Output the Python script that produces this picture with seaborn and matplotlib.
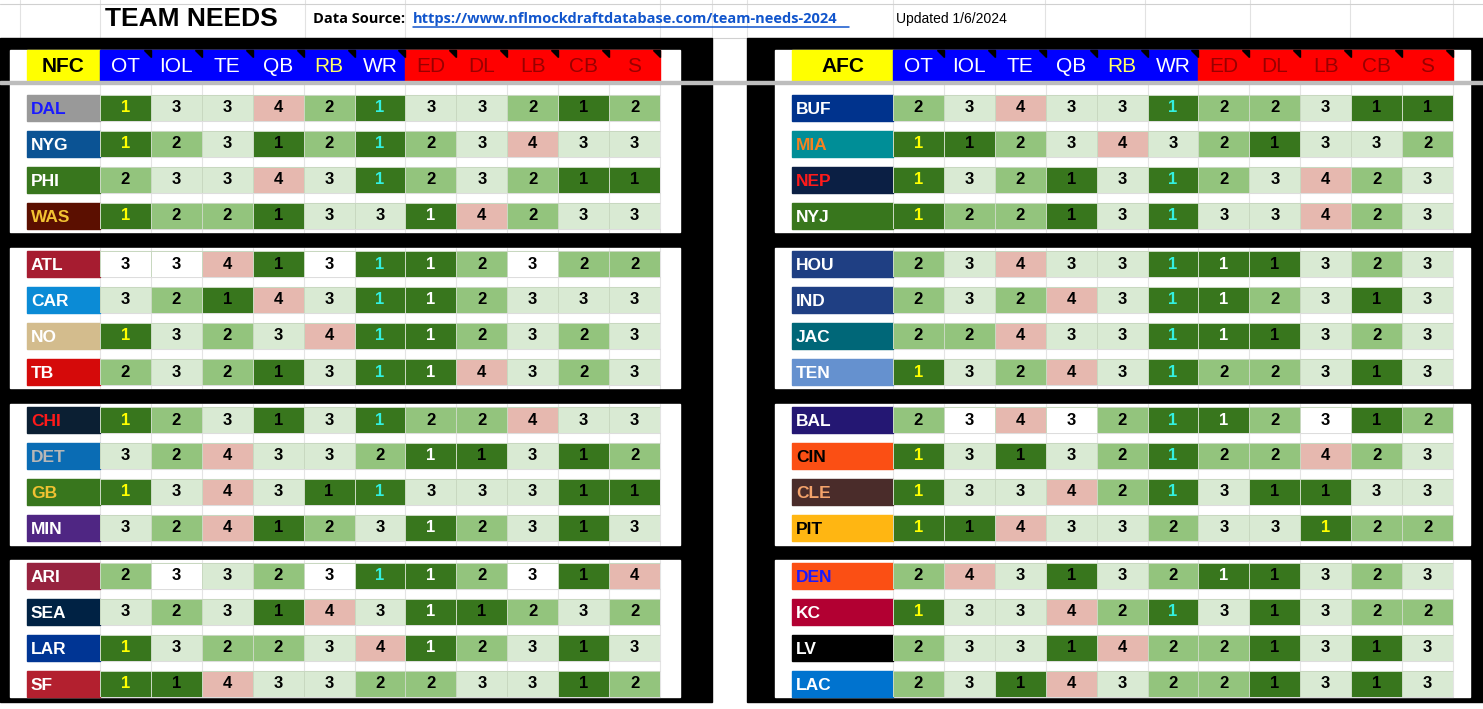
import numpy as np
import matplotlib
matplotlib.use("Agg")
import matplotlib.pyplot as plt
from matplotlib.colors import ListedColormap
from matplotlib.patches import Rectangle, Polygon
import seaborn as sns

positions = ["OT", "IOL", "TE", "QB", "RB", "WR", "ED", "DL", "LB", "CB", "S"]

nfc_teams = ["DAL", "NYG", "PHI", "WAS", "ATL", "CAR", "NO", "TB",
             "CHI", "DET", "GB", "MIN", "ARI", "SEA", "LAR", "SF"]
nfc_needs = [
    [1, 3, 3, 4, 2, 1, 3, 3, 2, 1, 2],
    [1, 2, 3, 1, 2, 1, 2, 3, 4, 3, 3],
    [2, 3, 3, 4, 3, 1, 2, 3, 2, 1, 1],
    [1, 2, 2, 1, 3, 3, 1, 4, 2, 3, 3],
    [3, 3, 4, 1, 3, 1, 1, 2, 3, 2, 2],
    [3, 2, 1, 4, 3, 1, 1, 2, 3, 3, 3],
    [1, 3, 2, 3, 4, 1, 1, 2, 3, 2, 3],
    [2, 3, 2, 1, 3, 1, 1, 4, 3, 2, 3],
    [1, 2, 3, 1, 3, 1, 2, 2, 4, 3, 3],
    [3, 2, 4, 3, 3, 2, 1, 1, 3, 1, 2],
    [1, 3, 4, 3, 1, 1, 3, 3, 3, 1, 1],
    [3, 2, 4, 1, 2, 3, 1, 2, 3, 1, 3],
    [2, 3, 3, 2, 3, 1, 1, 2, 3, 1, 4],
    [3, 2, 3, 1, 4, 3, 1, 1, 2, 3, 2],
    [1, 3, 2, 2, 3, 4, 1, 2, 3, 1, 3],
    [1, 1, 4, 3, 3, 2, 2, 3, 3, 1, 2],
]
afc_teams = ["BUF", "MIA", "NEP", "NYJ", "HOU", "IND", "JAC", "TEN",
             "BAL", "CIN", "CLE", "PIT", "DEN", "KC", "LV", "LAC"]
afc_needs = [
    [2, 3, 4, 3, 3, 1, 2, 2, 3, 1, 1],
    [1, 1, 2, 3, 4, 3, 2, 1, 3, 3, 2],
    [1, 3, 2, 1, 3, 1, 2, 3, 4, 2, 3],
    [1, 2, 2, 1, 3, 1, 3, 3, 4, 2, 3],
    [2, 3, 4, 3, 3, 1, 1, 1, 3, 2, 3],
    [2, 3, 2, 4, 3, 1, 1, 2, 3, 1, 3],
    [2, 2, 4, 3, 3, 1, 1, 1, 3, 2, 3],
    [1, 3, 2, 4, 3, 1, 2, 2, 3, 1, 3],
    [2, 3, 4, 3, 2, 1, 1, 2, 3, 1, 2],
    [1, 3, 1, 3, 2, 1, 2, 2, 4, 2, 3],
    [1, 3, 3, 4, 2, 1, 3, 1, 1, 3, 3],
    [1, 1, 4, 3, 3, 2, 3, 3, 1, 2, 2],
    [2, 4, 3, 1, 3, 2, 1, 1, 3, 2, 3],
    [1, 3, 3, 4, 2, 1, 3, 1, 3, 2, 2],
    [2, 3, 3, 1, 4, 2, 2, 1, 3, 1, 3],
    [2, 3, 1, 4, 3, 2, 2, 1, 3, 1, 3],
]
# cells shown with no fill (white) in the sheet
white_cells = {("ATL", "OT"), ("ATL", "IOL"), ("ATL", "RB"), ("ATL", "LB"),
               ("BAL", "IOL"), ("BAL", "QB"), ("BAL", "LB"),
               ("ARI", "IOL"), ("ARI", "RB"), ("ARI", "LB")}

team_style = {
    "DAL": ("#999999", "#1a1aff"), "NYG": ("#0b5394", "white"), "PHI": ("#38761d", "white"),
    "WAS": ("#5b0f00", "#f1c232"), "ATL": ("#a61c30", "white"), "CAR": ("#0b8bd6", "white"),
    "NO": ("#d3bc8d", "white"), "TB": ("#d50a0a", "white"), "CHI": ("#0b1f33", "#ff1a1a"),
    "DET": ("#0a6cb4", "#b7b7b7"), "GB": ("#38761d", "#f1c232"), "MIN": ("#4f2683", "white"),
    "ARI": ("#97233f", "white"), "SEA": ("#002244", "white"), "LAR": ("#003594", "white"),
    "SF": ("#b3202f", "white"),
    "BUF": ("#00338d", "white"), "MIA": ("#008e97", "#f58220"), "NEP": ("#0b1f44", "#ff1a1a"),
    "NYJ": ("#38761d", "white"), "HOU": ("#1f3f83", "white"), "IND": ("#1f3f83", "white"),
    "JAC": ("#006778", "white"), "TEN": ("#6591cf", "white"), "BAL": ("#241773", "white"),
    "CIN": ("#fb4f14", "black"), "CLE": ("#4a2c2a", "#f4a36b"), "PIT": ("#ffb612", "black"),
    "DEN": ("#fb4f14", "#1a1aff"), "KC": ("#b20032", "white"), "LV": ("#000000", "white"),
    "LAC": ("#0073cf", "white"),
}

W, H = 1483, 709
FONT = ["Liberation Sans Narrow", "Liberation Sans", "DejaVu Sans"]
sns.set_theme(style="white")
plt.rcParams["font.family"] = FONT

cell_cmap = ListedColormap(["#ffffff", "#38761d", "#93c47d", "#d9ead3", "#e6b8af"])
one_colors = {"OT": "#ffff00", "WR": "#33f0e0", "ED": "white"}

fig = plt.figure(figsize=(W / 100, H / 100), dpi=100)
bg = fig.add_axes([0, 0, 1, 1])
bg.set_xlim(0, W)
bg.set_ylim(H, 0)
bg.set_axis_off()

# spreadsheet gridlines
for x in [20, 100, 305, 405, 660, 712, 747, 893, 1045, 1145, 1250, 1350, 1453]:
    bg.plot([x, x], [0, 38], color="#e2e2e2", lw=0.8, zorder=0)
for y in [4, 38]:
    bg.plot([0, W], [y, y], color="#d0d0d0", lw=0.8, zorder=0)


def row_center(i):
    return 108 + 36 * i + 12 * (i // 4)


def draw_panel(x_black, x_black_end, x_white, x_white_end, x_team, x_cols, x_end, conf, teams, needs):
    bg.add_patch(Rectangle((x_black, 38), x_black_end - x_black, 664, color="black", zorder=1))
    spans = [(50, 232), (248, 388), (404, 545), (560, 697)]
    for y0, y1 in spans:
        bg.add_patch(Rectangle((x_white, y0), x_white_end - x_white, y1 - y0, color="white", zorder=2))
        for x in np.linspace(x_cols, x_end, 12):
            bg.plot([x, x], [max(y0, 84), y1], color="#e4e4e4", lw=0.8, zorder=2.5)
    cw = (x_end - x_cols) / len(positions)
    # header
    bg.add_patch(Rectangle((x_team, 50), x_cols - x_team, 32, color="#ffff00", zorder=3))
    bg.text((x_team + x_cols) / 2, 66, conf, ha="center", va="center", fontsize=15,
            fontweight="bold", color="black", zorder=4)
    for j, p in enumerate(positions):
        offense = j < 6
        x0 = x_cols + j * cw
        bg.add_patch(Rectangle((x0, 50), cw, 32, color="#0000ff" if offense else "#ff0000", zorder=3))
        tc = ("#ffff66" if p == "RB" else "white") if offense else "#990000"
        bg.text(x0 + cw / 2, 67, p, ha="center", va="center", fontsize=15, color=tc, zorder=4)
        bg.add_patch(Polygon([[x0 + cw - 7, 50], [x0 + cw, 50], [x0 + cw, 57]], color="black", zorder=4))
    # rows
    for i, team in enumerate(teams):
        yc = row_center(i)
        fill, tcol = team_style[team]
        bg.plot([x_team, x_end], [yc - 13, yc - 13], color="#dddddd", lw=0.8, zorder=2.6)
        bg.plot([x_team, x_end], [yc + 13, yc + 13], color="#dddddd", lw=0.8, zorder=2.6)
        bg.add_patch(Rectangle((x_team, yc - 13), x_cols - x_team, 26, color=fill, zorder=3))
        bg.text(x_team + 4, yc + 1, team, ha="left", va="center", fontsize=12.5,
                fontweight="bold", color=tcol, zorder=4)
        vals = np.array([needs[i]])
        idx = np.array([[0 if (team, p) in white_cells else v for p, v in zip(positions, needs[i])]])
        ax = fig.add_axes([x_cols / W, 1 - (yc + 13) / H, (x_end - x_cols) / W, 26 / H])
        sns.heatmap(idx, ax=ax, cmap=cell_cmap, vmin=-0.5, vmax=4.5, cbar=False,
                    annot=vals.astype(str), fmt="", linewidths=0.6, linecolor="#c8d8c0",
                    xticklabels=False, yticklabels=False,
                    annot_kws={"fontsize": 12, "fontweight": "bold", "color": "black"})
        for t, p, v in zip(ax.texts, positions, needs[i]):
            if v == 1 and p in one_colors:
                t.set_color(one_colors[p])
            if team == "PIT" and p == "LB":
                t.set_color("#ffff00")
        ax.set_axis_off()


draw_panel(0, 712, 10, 680, 27, 100, 660, "NFC", nfc_teams, nfc_needs)
draw_panel(747, 1483, 775, 1470, 792, 893, 1453, "AFC", afc_teams, afc_needs)

# grey frozen-row divider
bg.add_patch(Rectangle((0, 81), W, 3, color="#bdbdbd", zorder=5))

# title row
bg.text(105, 19, "TEAM NEEDS", ha="left", va="center", fontsize=19, fontweight="bold",
        family=["Liberation Sans", "DejaVu Sans"], color="black")
bg.text(313, 19, "Data Source: ", ha="left", va="center", fontsize=10.5, fontweight="bold",
        family=["Open Sans", "DejaVu Sans"], color="black")
bg.text(413, 19, "https://www.nflmockdraftdatabase.com/team-needs-2024", ha="left", va="center",
        fontsize=10.5, fontweight="bold", family=["Open Sans", "DejaVu Sans"], color="#1155cc")
bg.plot([413, 849], [27, 27], color="#1155cc", lw=1.1)
bg.text(896, 19, "Updated 1/6/2024", ha="left", va="center", fontsize=10, color="black")

fig.savefig("out.png", dpi=100)
